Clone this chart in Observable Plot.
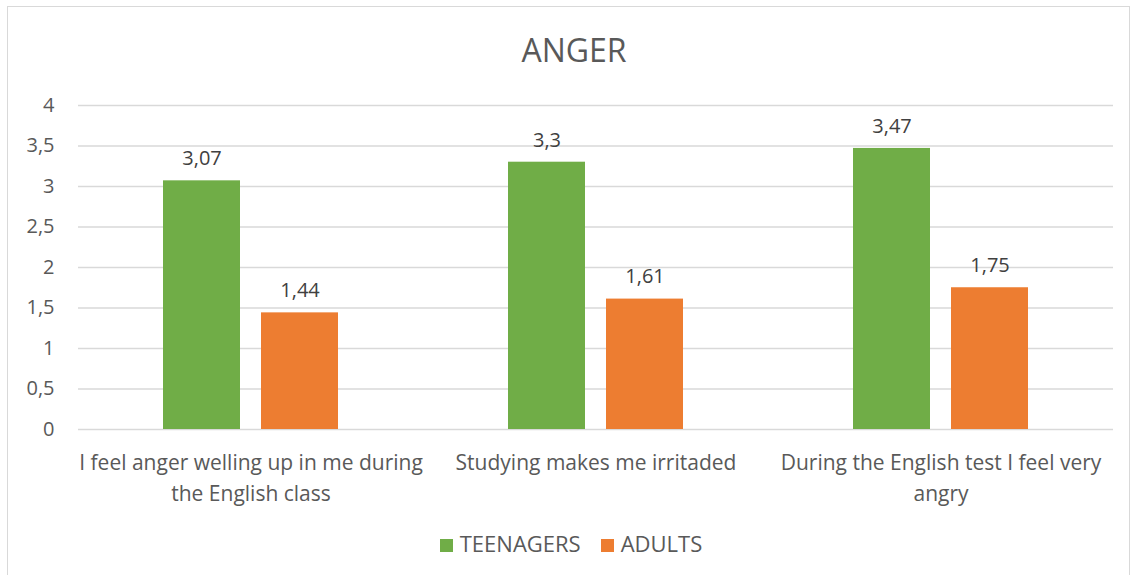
<!DOCTYPE html>
<html><head><meta charset="utf-8">
<script src="https://cdn.jsdelivr.net/npm/d3@7"></script>
<script src="https://cdn.jsdelivr.net/npm/@observablehq/plot@0.6"></script>
<style>
body{margin:0;background:#fff;font-family:"Open Sans",sans-serif;width:1134px;height:575px;overflow:hidden;position:relative}
#frame{position:absolute;left:7px;top:6px;width:1123px;height:580px;border:1px solid #d9d9d9;box-sizing:border-box}
#title{position:absolute;left:7px;top:27px;width:1134px;text-align:center;font-size:32px;color:#595959;line-height:46px}
#chart{position:absolute;left:0;top:81px}
#legend{position:absolute;left:4px;top:529px;width:1134px;display:flex;justify-content:center;gap:20px;font-size:22px;color:#595959;line-height:28px}
#legend span.sw{display:inline-block;width:13px;height:13px;margin-right:7px;vertical-align:0px}
</style></head><body>
<div id="frame"></div>
<div id="title">ANGER</div>
<div id="chart"></div>
<div id="legend"></div>
<script>
const categories = ["I feel anger welling up in me during the English class", "Studying makes me irritaded", "During the English test I feel very angry"];
const categoryLabels = ["I feel anger welling up in me during\nthe English class", "Studying makes me irritaded", "During the English test I feel very\nangry"];
const series = ["TEENAGERS", "ADULTS"];
const teenagers = [3.07, 3.3, 3.47];
const adults = [1.44, 1.61, 1.75];
const seriesColors = ["#70AD47", "#ED7D31"];
const yTicks = [0, 0.5, 1, 1.5, 2, 2.5, 3, 3.5, 4];

const fmt = v => String(v).replace(".", ",");
const data = categories.flatMap((c, i) => [
  {cat: c, series: "TEENAGERS", value: teenagers[i]},
  {cat: c, series: "ADULTS", value: adults[i]}
]);
const labelOf = c => categoryLabels[categories.indexOf(c)];

const chart = Plot.plot({
  width: 1134, height: 440,
  marginLeft: 78, marginRight: 21, marginTop: 24, marginBottom: 92,
  style: {fontFamily: "'Open Sans', sans-serif", fontSize: "20px", color: "#595959", background: "transparent", overflow: "visible"},
  fx: {domain: categories, padding: 0, label: null},
  x: {domain: series, paddingInner: 0.214, paddingOuter: 0.867, axis: null},
  y: {domain: [0, 4], label: null},
  color: {domain: series, range: seriesColors},
  marks: [
    Plot.gridY(yTicks, {stroke: "#D9D9D9", strokeOpacity: 1, strokeWidth: 1.3}),
    Plot.axisY(yTicks, {tickSize: 0, tickPadding: 24, tickFormat: fmt, fontSize: 20, fill: "#595959", label: null}),
    Plot.barY(data, {fx: "cat", x: "series", y: "value", fill: "series"}),
    Plot.text(data, {fx: "cat", x: "series", y: "value", text: d => fmt(d.value), dy: -22, fill: "#404040", fontSize: 20}),
    Plot.axisFx({anchor: "bottom", tickSize: 0, tickPadding: 19, tickFormat: labelOf, lineHeight: 1.45, fontSize: 21, fill: "#595959", label: null})
  ]
});
document.getElementById("chart").appendChild(chart);

const legend = document.getElementById("legend");
series.forEach((s, i) => {
  const item = document.createElement("div");
  item.innerHTML = `<span class="sw" style="background:${seriesColors[i]}"></span>${s}`;
  legend.appendChild(item);
});
</script>
</body></html>
